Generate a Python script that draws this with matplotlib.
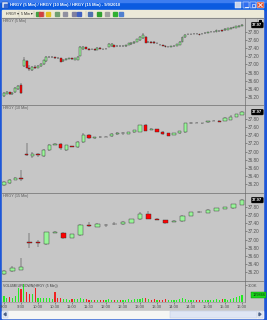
import matplotlib
matplotlib.use("Agg")
import matplotlib.pyplot as plt
import matplotlib.transforms as mtransforms
from matplotlib.patches import Rectangle, Polygon
import numpy as np

plt.rcParams['font.family'] = ['Liberation Sans', 'DejaVu Sans']

# ---------------- data ----------------
window_title = "HRGY (5 Min) / HRGY (10 Min) / HRGY (15 Min) - 9/9/2010"
panel_titles = ["HRGY (5 Min)", "HRGY (10 Min)", "HRGY (15 Min)"]
volume_title = "VOLUMEUPDOWN(HRGY (5 Min))"
session_start = "9:00"
time_labels = ["9:00", "9:30", "10:00", "10:30", "11:00", "11:30", "12:00", "12:30",
               "13:00", "13:30", "14:00", "14:30", "15:00", "15:30", "16:00"]
price_ticks = [36.20, 36.40, 36.60, 36.80, 37.00, 37.20, 37.40, 37.60, 37.80]
volume_ticks = [300]
volume_box_text = "129866"

# 5-minute bars
o5 = [36.21, 36.28, 36.31, 36.27, 36.31, 36.40, 36.50, 36.96, 37.08, 36.90,
      36.87, 36.93, 36.91, 36.95, 37.00, 37.08, 37.18, 37.19, 37.18, 37.16,
      37.15, 37.08, 37.11, 37.14, 37.15, 37.12, 37.12, 37.22, 37.37, 37.43,
      37.39, 37.37, 37.37, 37.36, 37.40, 37.38, 37.38, 37.43, 37.45, 37.48,
      37.46, 37.46, 37.45, 37.45, 37.48, 37.50, 37.52, 37.56, 37.60, 37.64,
      37.67, 37.55, 37.56, 37.56, 37.52, 37.49, 37.48, 37.46, 37.44, 37.44,
      37.45, 37.46, 37.49, 37.56, 37.67, 37.74, 37.74, 37.75, 37.76, 37.74,
      37.75, 37.77, 37.78, 37.80, 37.80, 37.80, 37.82, 37.85, 37.84, 37.86,
      37.88, 37.91, 37.91, 37.93, 37.94]
c5 = [36.29, 36.32, 36.27, 36.30, 36.43, 36.48, 36.30, 37.12, 36.92, 36.88,
      36.93, 36.91, 36.97, 37.02, 37.10, 37.18, 37.19, 37.19, 37.16, 37.15,
      37.07, 37.11, 37.14, 37.15, 37.14, 37.15, 37.19, 37.43, 37.43, 37.38,
      37.36, 37.37, 37.36, 37.41, 37.39, 37.37, 37.39, 37.51, 37.50, 37.43,
      37.46, 37.45, 37.46, 37.48, 37.52, 37.54, 37.56, 37.62, 37.68, 37.73,
      37.54, 37.56, 37.54, 37.52, 37.52, 37.48, 37.46, 37.43, 37.44, 37.45,
      37.46, 37.50, 37.56, 37.67, 37.73, 37.74, 37.75, 37.76, 37.75, 37.73,
      37.76, 37.77, 37.80, 37.80, 37.81, 37.84, 37.82, 37.82, 37.88, 37.90,
      37.91, 37.92, 37.94, 37.96, 37.97]
h5 = [36.31, 36.34, 36.33, 36.31, 36.45, 36.50, 36.55, 37.19, 37.10, 36.99,
      36.95, 36.98, 36.99, 37.04, 37.11, 37.20, 37.21, 37.21, 37.19, 37.18,
      37.16, 37.13, 37.15, 37.17, 37.17, 37.16, 37.20, 37.45, 37.45, 37.44,
      37.40, 37.39, 37.38, 37.42, 37.42, 37.39, 37.41, 37.52, 37.52, 37.49,
      37.48, 37.47, 37.48, 37.49, 37.53, 37.55, 37.58, 37.63, 37.70, 37.77,
      37.69, 37.58, 37.57, 37.57, 37.54, 37.50, 37.49, 37.47, 37.46, 37.46,
      37.48, 37.51, 37.57, 37.68, 37.74, 37.76, 37.76, 37.78, 37.77, 37.75,
      37.77, 37.79, 37.81, 37.82, 37.82, 37.85, 37.84, 37.86, 37.89, 37.91,
      37.92, 37.93, 37.95, 37.97, 38.00]
l5 = [36.19, 36.26, 36.25, 36.25, 36.30, 36.38, 36.26, 36.93, 36.90, 36.85,
      36.85, 36.89, 36.90, 36.94, 36.99, 37.06, 37.16, 37.17, 37.14, 37.13,
      37.05, 37.06, 37.10, 37.13, 37.12, 37.10, 37.10, 37.20, 37.36, 37.37,
      37.35, 37.35, 37.34, 37.35, 37.38, 37.36, 37.37, 37.42, 37.44, 37.42,
      37.44, 37.44, 37.44, 37.44, 37.47, 37.49, 37.51, 37.55, 37.59, 37.63,
      37.52, 37.53, 37.53, 37.50, 37.50, 37.47, 37.45, 37.42, 37.42, 37.43,
      37.44, 37.45, 37.48, 37.55, 37.66, 37.72, 37.73, 37.74, 37.74, 37.72,
      37.74, 37.76, 37.77, 37.79, 37.79, 37.79, 37.81, 37.81, 37.83, 37.85,
      37.87, 37.90, 37.90, 37.92, 37.94]
vol5 = [110, 80, 90, 65, 100, 250, 230, 330, 180, 140,
        150, 250, 80, 80, 80, 70, 80, 60, 180, 80,
        70, 55, 50, 45, 55, 50, 60, 70, 50, 50,
        45, 40, 35, 45, 35, 40, 35, 50, 40, 45,
        35, 40, 35, 40, 50, 45, 55, 60, 60, 70,
        65, 55, 45, 50, 40, 45, 40, 50, 35, 40,
        40, 45, 55, 65, 60, 45, 40, 35, 40, 45,
        35, 40, 45, 40, 40, 50, 45, 55, 60, 45,
        50, 70, 90, 110, 130]

# 10-minute bars
o10 = [36.18, 36.23, 36.30, 36.36, 36.95, 36.90, 36.93, 36.88, 37.04, 37.17,
       37.18, 37.05, 37.13, 37.12, 37.24, 37.41, 37.34, 37.35, 37.37, 37.38,
       37.44, 37.45, 37.43, 37.47, 37.49, 37.65, 37.54, 37.55, 37.49, 37.45,
       37.41, 37.45, 37.47, 37.69, 37.70, 37.70, 37.72, 37.75, 37.76, 37.76,
       37.78, 37.85, 37.90]
c10 = [36.25, 36.31, 36.36, 36.32, 36.92, 36.95, 36.91, 37.04, 37.16, 37.18,
       37.08, 37.16, 37.12, 37.24, 37.41, 37.33, 37.35, 37.36, 37.36, 37.44,
       37.45, 37.45, 37.47, 37.53, 37.65, 37.51, 37.55, 37.49, 37.43, 37.39,
       37.45, 37.50, 37.69, 37.70, 37.71, 37.69, 37.74, 37.76, 37.73, 37.82,
       37.86, 37.92, 37.97]
h10 = [36.27, 36.33, 36.38, 36.54, 37.20, 36.98, 36.96, 37.06, 37.18, 37.20,
       37.20, 37.17, 37.14, 37.25, 37.45, 37.43, 37.37, 37.38, 37.38, 37.46,
       37.49, 37.48, 37.48, 37.54, 37.66, 37.68, 37.57, 37.56, 37.50, 37.46,
       37.46, 37.51, 37.70, 37.72, 37.73, 37.71, 37.75, 37.77, 37.77, 37.84,
       37.90, 37.93, 38.00]
l10 = [36.16, 36.21, 36.29, 36.28, 36.88, 36.85, 36.86, 36.86, 37.02, 37.15,
       37.05, 37.02, 37.11, 37.08, 37.22, 37.31, 37.31, 37.34, 37.35, 37.37,
       37.40, 37.41, 37.42, 37.46, 37.48, 37.50, 37.53, 37.48, 37.41, 37.38,
       37.40, 37.44, 37.46, 37.68, 37.69, 37.68, 37.71, 37.74, 37.72, 37.75,
       37.77, 37.84, 37.89]

# 15-minute bars
o15 = [36.14, 36.22, 36.25, 36.94, 36.93, 36.89, 37.17, 37.17, 37.05, 37.11,
       37.37, 37.32, 37.37, 37.38, 37.38, 37.41, 37.50, 37.64, 37.51, 37.48,
       37.44, 37.45, 37.59, 37.68, 37.66, 37.71, 37.75, 37.77, 37.85]
c15 = [36.23, 36.29, 36.33, 36.92, 36.91, 37.18, 37.18, 37.04, 37.13, 37.37,
       37.33, 37.39, 37.35, 37.39, 37.44, 37.50, 37.64, 37.51, 37.49, 37.40,
       37.45, 37.59, 37.67, 37.67, 37.73, 37.77, 37.80, 37.87, 37.97]
h15 = [36.25, 36.35, 36.54, 37.15, 36.99, 37.19, 37.20, 37.19, 37.14, 37.38,
       37.42, 37.40, 37.38, 37.42, 37.45, 37.51, 37.68, 37.69, 37.54, 37.49,
       37.47, 37.60, 37.68, 37.70, 37.74, 37.78, 37.81, 37.88, 38.00]
l15 = [36.12, 36.21, 36.24, 36.78, 36.82, 36.87, 37.15, 37.02, 37.04, 37.09,
       37.32, 37.30, 37.30, 37.36, 37.37, 37.40, 37.49, 37.50, 37.48, 37.39,
       37.42, 37.44, 37.58, 37.66, 37.65, 37.70, 37.74, 37.76, 37.84]

# ---------------- helpers ----------------
W, H = 267, 320
BG = '#c6c6c6'
DARK = '#303030'
GREEN = '#98f598'
RED = '#ff0000'
AXC = '#505050'


def to_min(t):
    hh, mm = t.split(':')
    return int(hh) * 60 + int(mm)


t0 = to_min(session_start)
tick_pos = [to_min(t) - t0 for t in time_labels]


def rect(x, y, w, h):
    return [x / W, 1 - (y + h) / H, w / W, h / H]


fig = plt.figure(figsize=(W / 100, H / 100), dpi=100)
fig.patch.set_facecolor('#1d57d8')

ov = fig.add_axes([0, 0, 1, 1], zorder=0)
ov.set_xlim(0, W)
ov.set_ylim(H, 0)
ov.axis('off')

# title bar
ov.add_patch(Rectangle((0, 0), W, 10, color='#0b5be0'))
ov.add_patch(Rectangle((0, 0), W, 2, color='#3d7df0'))
ov.add_patch(Rectangle((2, 2), 6, 6, color='#d8e4f8', ec='#1a3f99', lw=0.3))
ov.add_patch(Rectangle((3.5, 3.5), 3, 3, color='#3a6bd0'))
ov.text(10, 5.3, window_title, color='white', fontsize=3.0, fontweight='bold',
        va='center', ha='left')
# window buttons
ov.add_patch(Rectangle((235, 2), 6, 6, color='#c7d3ea', ec='white', lw=0.3))
ov.add_patch(Rectangle((243, 2), 6, 6, color='#2f6ef0', ec='white', lw=0.3))
ov.add_patch(Rectangle((250, 2), 6, 6, color='#2f6ef0', ec='white', lw=0.3))
ov.add_patch(Rectangle((257, 2), 7, 6, color='#e0502a', ec='white', lw=0.3))
ov.plot([244.5, 247.5], [6.5, 6.5], color='white', lw=0.6)
ov.add_patch(Rectangle((251.5, 3.5), 3, 3, fill=False, ec='white', lw=0.4))
ov.plot([258.8, 262.2], [3.3, 6.7], color='white', lw=0.6)
ov.plot([258.8, 262.2], [6.7, 3.3], color='white', lw=0.6)

# toolbar
ov.add_patch(Rectangle((2, 10), 261, 7.5, color='#ece9d8'))
ov.text(6, 13.8, "HRGY \u25be", fontsize=2.6, color='#202020', va='center')
ov.text(21, 13.8, "5 Min \u25be", fontsize=2.6, color='#202020', va='center')
icon_x = [36, 39, 46, 55, 63, 72, 77, 88, 97, 105, 113, 119]
icon_c = ['#40a040', '#d04040', '#e0c020', '#70a070', '#9090a0', '#8080a0',
          '#4060c0', '#5070b0', '#30a030', '#a0a0a0', '#30b030', '#5080d0']
for xi, ci in zip(icon_x, icon_c):
    ov.add_patch(Rectangle((xi, 11.5), 3.5, 4, color=ci))
for xs in [19, 34, 44, 86]:
    ov.plot([xs, xs], [11, 16.5], color='#b0ad9c', lw=0.3)

# chart area background
ov.add_patch(Rectangle((2, 17.5), 261, 300, color=BG))
for ys in [17.5, 105, 193, 281]:
    ov.plot([2, 263], [ys, ys], color='#7c7c7c', lw=0.6)
# top-right small box
ov.add_patch(Rectangle((257.5, 18.5), 5, 5, color='white', ec='#707070', lw=0.3))
ov.add_patch(Rectangle((259.3, 20.3), 1.4, 1.4, color='black'))

# scrollbar
ov.add_patch(Rectangle((2, 310.5), 261, 7.5, color='#f6f6f4'))
ov.add_patch(Rectangle((170, 311), 87, 6.5, color='#dfe6f4', ec='#b8c4dc', lw=0.3))
ov.add_patch(Rectangle((2.5, 311), 5, 6.5, color='#e4ebf6', ec='#b8c4dc', lw=0.3))
ov.add_patch(Rectangle((257.5, 311), 5, 6.5, color='#e4ebf6', ec='#b8c4dc', lw=0.3))
ov.add_patch(Polygon([[6, 312.8], [6, 315.8], [4, 314.3]], color='#4d6185'))
ov.add_patch(Polygon([[259, 312.8], [259, 315.8], [261, 314.3]], color='#4d6185'))

# ---------------- chart panels ----------------
XL = (-3.5, 425.3)
panels = [
    (18, 87, o5, h5, l5, c5, 5, 3.5, panel_titles[0]),
    (105, 88, o10, h10, l10, c10, 10, 6.0, panel_titles[1]),
    (193, 88, o15, h15, l15, c15, 15, 8.0, panel_titles[2]),
]
ylims = [(36.00, 38.145), (35.98, 38.145), (35.98, 38.145)]


def style_axis(ax):
    ax.set_facecolor('none')
    for s in ['top', 'left', 'bottom']:
        ax.spines[s].set_visible(False)
    ax.spines['right'].set_color('#707070')
    ax.spines['right'].set_linewidth(0.5)


for (ytop, hgt, o, hi, lo, c, step, bw, ttl), yl in zip(panels, ylims):
    ax = fig.add_axes(rect(2, ytop, 243, hgt), zorder=1)
    style_axis(ax)
    o = np.array(o); hi = np.array(hi); lo = np.array(lo); c = np.array(c)
    x = np.arange(len(o)) * step
    ax.vlines(x, lo, hi, color=DARK, lw=0.35, zorder=2)
    cols = np.where(c > o, GREEN, np.where(c < o, RED, DARK))
    ax.bar(x, np.abs(c - o), bw, bottom=np.minimum(o, c), color=cols,
           edgecolor=DARK, linewidth=0.3, zorder=3)
    ax.set_xlim(*XL)
    ax.set_ylim(*yl)
    ax.set_xticks([])
    ax.yaxis.tick_right()
    ax.set_yticks(price_ticks)
    ax.set_yticklabels([f"{v:.2f}" for v in price_ticks])
    ax.tick_params(axis='y', direction='out', length=1.5, width=0.4,
                   colors=AXC, labelsize=3.3, pad=0.8)
    ax.text(0.003, 0.985, ttl, transform=ax.transAxes, fontsize=2.7,
            color='#5a5a5a', va='top', ha='left')
    tr = mtransforms.blended_transform_factory(ax.transAxes, ax.transData)
    ax.text(1.03, c[-1], f"{c[-1]:.2f}", transform=tr, fontsize=3.0,
            color='white', fontweight='bold', va='center', ha='left',
            bbox=dict(boxstyle='round,pad=0.2', fc='black', ec='black', lw=0.3),
            zorder=5)

# volume panel
axv = fig.add_axes(rect(2, 281, 243, 21), zorder=1)
style_axis(axv)
axv.spines['bottom'].set_visible(True)
axv.spines['bottom'].set_color('#909090')
axv.spines['bottom'].set_linewidth(0.4)
o5a = np.array(o5); c5a = np.array(c5)
xv = np.arange(len(vol5)) * 5
vcols = np.where(c5a >= o5a, '#22ee22', '#ee2222')
axv.bar(xv, vol5, 1.9, color=vcols, linewidth=0, zorder=3)
axv.set_xlim(*XL)
axv.set_ylim(0, 380)
axv.yaxis.tick_right()
axv.set_yticks(volume_ticks)
axv.set_yticklabels([f"{v}K" for v in volume_ticks])
axv.tick_params(axis='y', direction='out', length=1.5, width=0.4,
                colors=AXC, labelsize=3.0, pad=0.8)
axv.set_xticks(tick_pos)
axv.set_xticklabels(time_labels)
axv.tick_params(axis='x', direction='out', length=1.5, width=0.4,
                colors=AXC, labelsize=3.0, pad=0.8)
axv.text(0.004, 0.75, volume_title, transform=axv.transAxes, fontsize=2.5,
         color='#404040', va='center', ha='left')
trv = mtransforms.blended_transform_factory(axv.transAxes, axv.transData)
axv.text(1.03, vol5[-1], volume_box_text, transform=trv, fontsize=2.8,
         color='#103010', va='center', ha='left',
         bbox=dict(boxstyle='square,pad=0.25', fc='#18d818', ec='#0a8a0a', lw=0.3),
         zorder=5)

fig.savefig('out.png', dpi=100, facecolor=fig.get_facecolor())
